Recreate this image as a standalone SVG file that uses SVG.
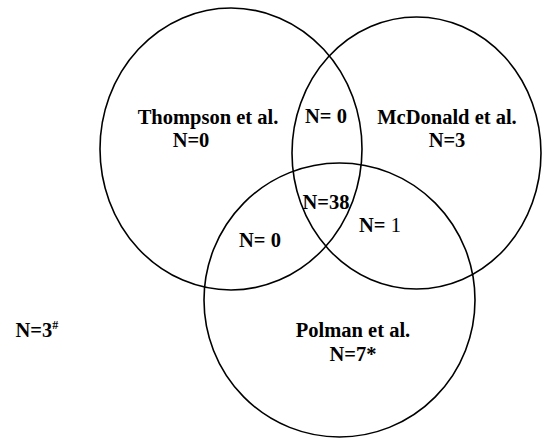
<svg xmlns="http://www.w3.org/2000/svg" width="542" height="445" viewBox="0 0 542 445">
<style>
.c{fill:none;stroke:#000;stroke-width:1.6}
.t{font-family:"Liberation Serif","Times New Roman",serif;font-weight:bold;font-size:20.5px;fill:#000;text-anchor:middle}
.r{font-weight:normal}
</style>
<rect width="542" height="445" fill="#fff"/>
<g id="thompson">
<ellipse class="c" cx="231" cy="149" rx="131" ry="141"/>
<text class="t" x="208" y="124">Thompson et al.</text>
<text class="t" x="191" y="147">N=0</text>
</g>
<g id="mcdonald">
<ellipse class="c" cx="416.5" cy="153" rx="124.5" ry="136"/>
<text class="t" x="447" y="124">McDonald et al.</text>
<text class="t" x="447" y="147">N=3</text>
</g>
<g id="polman">
<ellipse class="c" cx="339.5" cy="300" rx="135.5" ry="137"/>
<text class="t" x="353" y="337">Polman et al.</text>
<text class="t" x="353" y="361">N=7*</text>
</g>
<g id="overlaps">
<text class="t" x="326" y="123">N= 0</text>
<text class="t" x="326" y="209">N=38</text>
<text class="t" x="380" y="232">N= <tspan class="r">1</tspan></text>
<text class="t" x="260" y="247">N= 0</text>
</g>
<g id="outside">
<text class="t" x="15.5" y="337" style="text-anchor:start">N=3<tspan font-size="12" dy="-8">#</tspan></text>
</g>
<g id="connectors"></g>
</svg>
